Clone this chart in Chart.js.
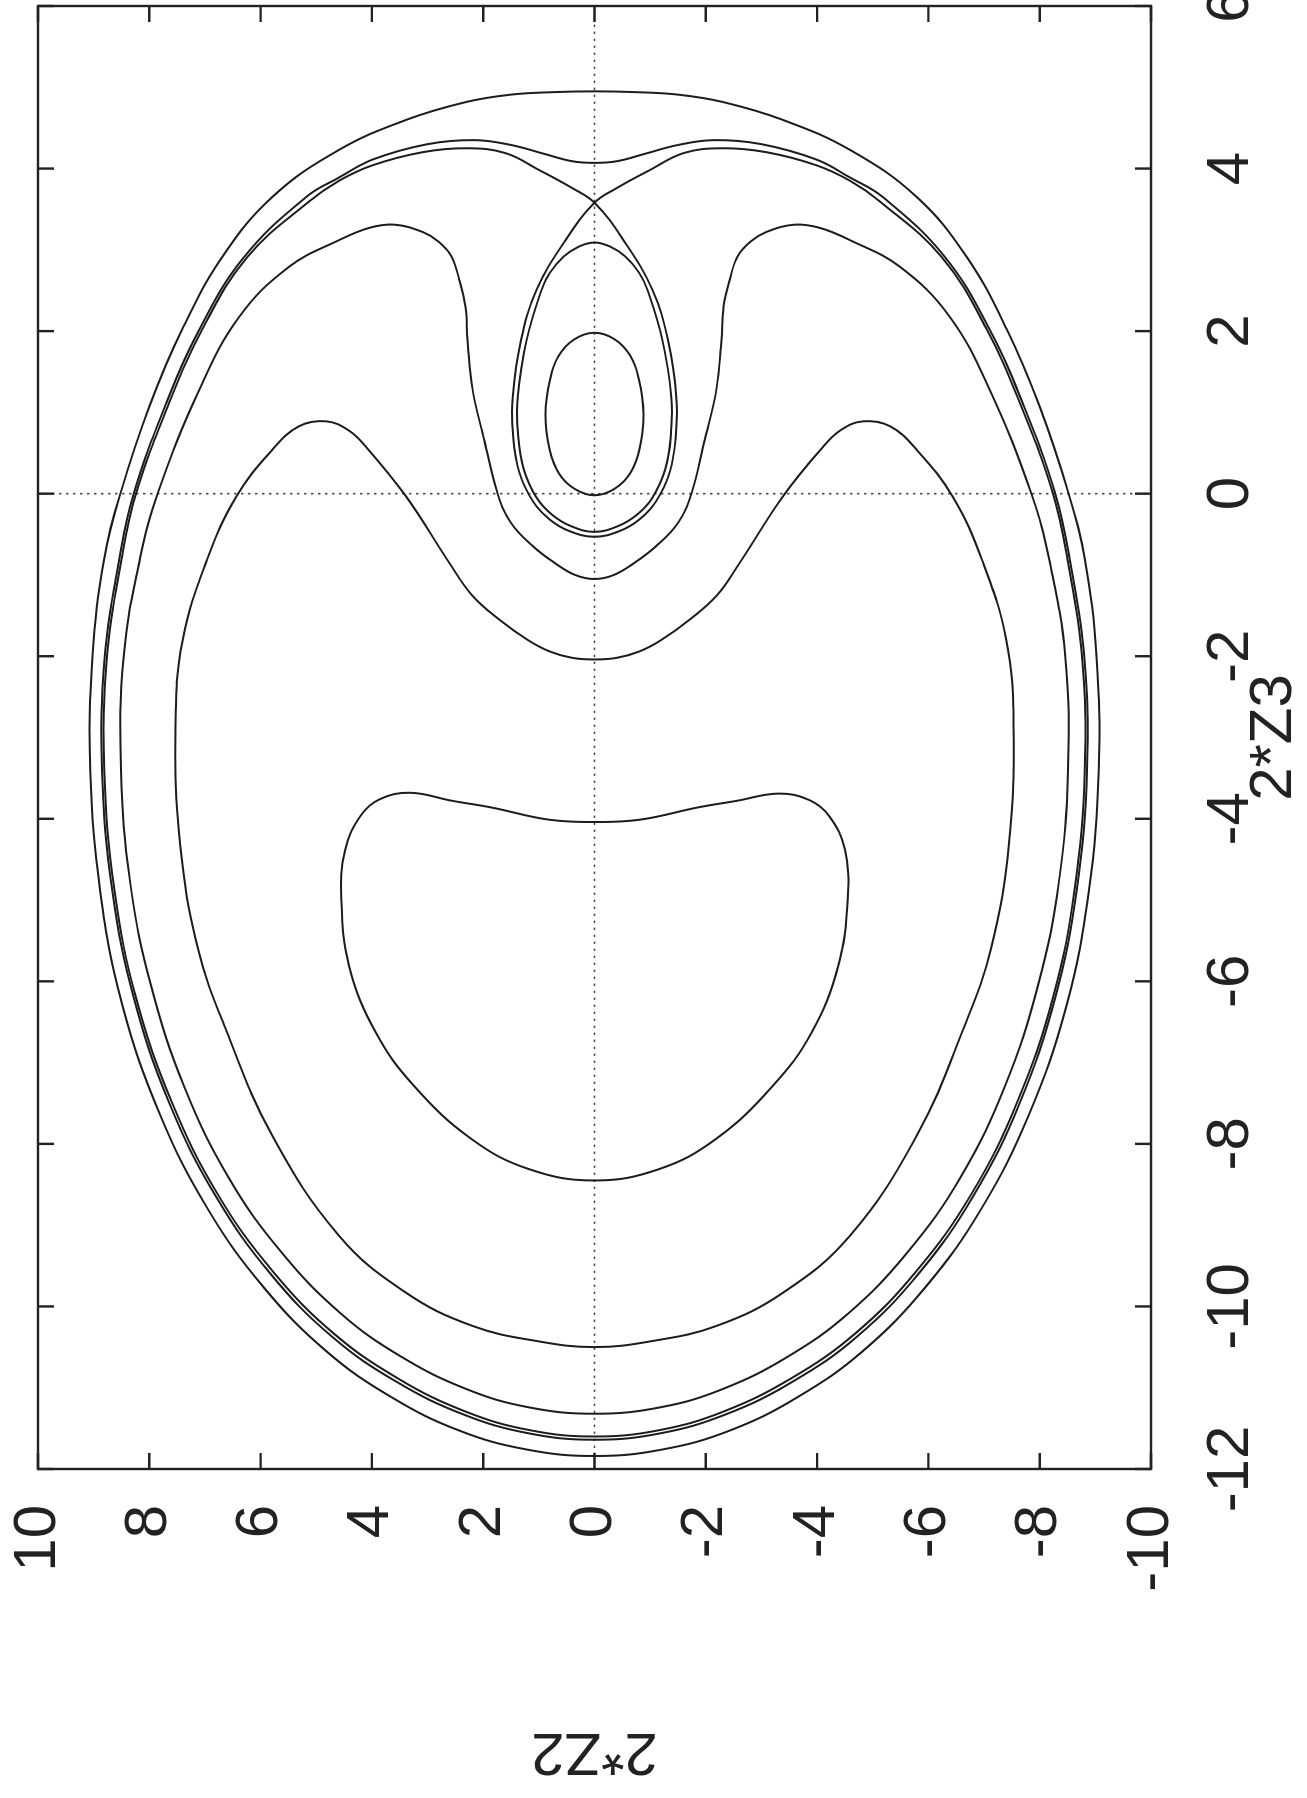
<!DOCTYPE html>
<html>
<head>
<meta charset="utf-8">
<script src="https://cdn.jsdelivr.net/npm/chart.js@4"></script>
<style>
html,body{margin:0;padding:0;background:#fff;overflow:hidden;width:1307px;height:1798px;}
#wrap{position:absolute;left:0;top:0;width:1798px;height:1307px;transform-origin:0 0;transform:translate(0px,1798px) rotate(-90deg);}
canvas{display:block;}
</style>
</head>
<body>
<div id="wrap"><canvas id="c" width="1798" height="1307"></canvas></div>
<script>
// Axis settings
const Z3_RANGE = [-12, 6];      // horizontal axis 2*Z3
const Z2_RANGE = [-10, 10];     // vertical axis 2*Z2
const TICK_STEP = 2;
const X_TITLE = '2*Z3';
const Y_TITLE = '2*Z2';

// Orbits: each point is [2*Z3, 2*Z2]
const outerOrbit = [[-11.84,0],[-11.76,1.22],[-11.53,2.42],[-11.12,3.64],[-10.55,4.82],[-9.76,5.95],[-8.8,6.95],[-7.65,7.8],[-6.3,8.48],[-4.9,8.88],[-3.4,9.06],[-2.0,9.02],[-0.8,8.81],[0.0,8.52],[1.07,8.0],[2.02,7.41],[2.91,6.69],[3.65,5.79],[4.23,4.59],[4.6,3.38],[4.82,2.3],[4.91,1.5],[4.94,0.75],[4.95,0],[4.94,-0.75],[4.91,-1.5],[4.82,-2.3],[4.6,-3.38],[4.23,-4.59],[3.65,-5.79],[2.91,-6.69],[2.02,-7.41],[1.07,-8.0],[0.0,-8.52],[-0.8,-8.81],[-2.0,-9.02],[-3.4,-9.06],[-4.9,-8.88],[-6.3,-8.48],[-7.65,-7.8],[-8.8,-6.95],[-9.76,-5.95],[-10.55,-4.82],[-11.12,-3.64],[-11.53,-2.42],[-11.76,-1.22]];

const notchedOrbit = [[-11.64,0],[-11.56,1.19],[-11.33,2.35],[-10.93,3.55],[-10.37,4.72],[-9.6,5.82],[-8.65,6.8],[-7.5,7.64],[-6.2,8.28],[-4.9,8.66],[-3.4,8.85],[-2.0,8.8],[-0.81,8.54],[0.0,8.28],[1.07,7.72],[2.02,7.1],[2.91,6.3],[3.65,5.18],[3.89,4.59],[4.11,3.99],[4.3,3.0],[4.35,2.15],[4.29,1.5],[4.18,0.9],[4.09,0.4],[4.07,0],[4.09,-0.4],[4.18,-0.9],[4.29,-1.5],[4.35,-2.15],[4.3,-3.0],[4.11,-3.99],[3.89,-4.59],[3.65,-5.18],[2.91,-6.3],[2.02,-7.1],[1.07,-7.72],[0.0,-8.28],[-0.81,-8.54],[-2.0,-8.8],[-3.4,-8.85],[-4.9,-8.66],[-6.2,-8.28],[-7.5,-7.64],[-8.65,-6.8],[-9.6,-5.82],[-10.37,-4.72],[-10.93,-3.55],[-11.33,-2.35],[-11.56,-1.19]];

const separatrix = [[-11.6,0],[-11.52,1.18],[-11.29,2.33],[-10.89,3.52],[-10.33,4.69],[-9.56,5.79],[-8.62,6.77],[-7.48,7.6],[-6.2,8.24],[-4.9,8.62],[-3.4,8.81],[-2.0,8.76],[-0.81,8.5],[0.0,8.24],[1.07,7.67],[2.02,7.05],[2.91,6.24],[3.6,5.12],[3.85,4.59],[4.04,3.99],[4.2,3.1],[4.25,2.3],[4.19,1.6],[3.98,0.99],[3.76,0.4],[3.58,0],
  [3.12,-0.52],[2.51,-1.04],[1.89,-1.32],[1.19,-1.47],[0.7,-1.46],[0.26,-1.35],[-0.1,-1.1],[-0.32,-0.8],[-0.46,-0.45],[-0.53,0],
  [-0.46,0.45],[-0.32,0.8],[-0.1,1.1],[0.26,1.35],[0.7,1.46],[1.19,1.47],[1.89,1.32],[2.51,1.04],[3.12,0.52],[3.58,0],
  [3.76,-0.4],[3.98,-0.99],[4.19,-1.6],[4.25,-2.3],[4.2,-3.1],[4.04,-3.99],[3.85,-4.59],[3.6,-5.12],[2.91,-6.24],[2.02,-7.05],[1.07,-7.67],[0.0,-8.24],[-0.81,-8.5],[-2.0,-8.76],[-3.4,-8.81],[-4.9,-8.62],[-6.2,-8.24],[-7.48,-7.6],[-8.62,-6.77],[-9.56,-5.79],[-10.33,-4.69],[-10.89,-3.52],[-11.29,-2.33],[-11.52,-1.18]];

const eyeOrbit = [[3.09,0],[3.04,-0.28],[2.92,-0.55],[2.72,-0.8],[2.51,-0.95],[1.89,-1.22],[1.19,-1.38],[0.7,-1.37],[0.3,-1.27],[-0.05,-1.04],[-0.26,-0.76],[-0.4,-0.42],[-0.47,0],[-0.4,0.42],[-0.26,0.76],[-0.05,1.04],[0.3,1.27],[0.7,1.37],[1.19,1.38],[1.89,1.22],[2.51,0.95],[2.72,0.8],[2.92,0.55],[3.04,0.28]];

const innerEye = [[1.98,0],[1.9,-0.36],[1.7,-0.64],[1.4,-0.8],[0.98,-0.88],[0.55,-0.81],[0.25,-0.64],[0.06,-0.36],[-0.02,0],[0.06,0.36],[0.25,0.64],[0.55,0.81],[0.98,0.88],[1.4,0.8],[1.7,0.64],[1.9,0.36]];

const bentOrbitF = [[-11.32,0],[-11.24,1.19],[-11.02,2.29],[-10.62,3.47],[-10.08,4.57],[-9.33,5.63],[-8.42,6.57],[-7.3,7.37],[-6.05,7.97],[-4.8,8.34],[-3.4,8.51],[-2.0,8.46],[-0.81,8.17],[0.0,7.85],[1.28,7.1],[2.18,6.38],[2.79,5.49],[3.12,4.59],[3.27,4.05],[3.31,3.6],[3.22,3.09],[3.1,2.8],[2.92,2.57],[2.63,2.43],[2.3,2.32],[1.89,2.28],[1.28,2.19],[0.66,1.98],[0.0,1.74],[-0.36,1.5],[-0.65,1.1],[-0.85,0.72],[-1.0,0.35],[-1.05,0],[-1.0,-0.35],[-0.85,-0.72],[-0.65,-1.1],[-0.36,-1.5],[0.0,-1.74],[0.66,-1.98],[1.28,-2.19],[1.89,-2.28],[2.3,-2.32],[2.63,-2.43],[2.92,-2.57],[3.1,-2.8],[3.22,-3.09],[3.31,-3.6],[3.27,-4.05],[3.12,-4.59],[2.79,-5.49],[2.18,-6.38],[1.28,-7.1],[0.0,-7.85],[-0.81,-8.17],[-2.0,-8.46],[-3.4,-8.51],[-4.8,-8.34],[-6.05,-7.97],[-7.3,-7.37],[-8.42,-6.57],[-9.33,-5.63],[-10.08,-4.57],[-10.62,-3.47],[-11.02,-2.29],[-11.24,-1.19]];

const bentOrbitG = [[-10.5,0],[-10.43,1.0],[-10.24,2.19],[-9.83,3.39],[-9.13,4.59],[-7.9,5.79],[-6.6,6.62],[-5.61,7.12],[-4.3,7.45],[-2.85,7.53],[-1.8,7.4],[-0.81,6.96],[-0.04,6.44],[0.54,5.79],[0.83,5.31],[0.89,4.82],[0.78,4.42],[0.58,4.11],[-0.03,3.39],[-0.85,2.61],[-1.25,2.2],[-1.55,1.71],[-1.8,1.2],[-1.94,0.81],[-2.02,0.4],[-2.04,0],[-2.02,-0.4],[-1.94,-0.81],[-1.8,-1.2],[-1.55,-1.71],[-1.25,-2.2],[-0.85,-2.61],[-0.03,-3.39],[0.58,-4.11],[0.78,-4.42],[0.89,-4.82],[0.83,-5.31],[0.54,-5.79],[-0.04,-6.44],[-0.81,-6.96],[-1.8,-7.4],[-2.85,-7.53],[-4.3,-7.45],[-5.61,-7.12],[-6.6,-6.62],[-7.9,-5.79],[-9.13,-4.59],[-9.83,-3.39],[-10.24,-2.19],[-10.43,-1.0]];

const kidneyOrbit = [[-8.45,0],[-8.31,1.18],[-7.94,2.21],[-7.29,3.24],[-6.63,3.93],[-5.81,4.41],[-4.99,4.55],[-4.38,4.48],[-3.96,4.2],[-3.76,3.86],[-3.68,3.31],[-3.78,2.55],[-3.86,1.86],[-4.01,0.83],[-4.04,0],[-4.01,-0.83],[-3.86,-1.86],[-3.78,-2.55],[-3.69,-3.31],[-3.77,-3.86],[-3.97,-4.22],[-4.38,-4.5],[-4.99,-4.55],[-5.81,-4.38],[-6.63,-3.9],[-7.29,-3.2],[-7.94,-2.18],[-8.31,-1.16]];

const orbits = [outerOrbit, notchedOrbit, separatrix, eyeOrbit, innerEye, bentOrbitF, bentOrbitG, kidneyOrbit];

const FONT = '"Liberation Sans", Arial, Helvetica, sans-serif';
const INK = '#1c1c1c';

// close each orbit into a loop and let the library compute the spline control points
const loopPlugin = {
  id: 'closedLoops',
  beforeDatasetDraw(chart, args) {
    const line = args.meta.dataset;
    if (line) {
      line._loop = true; line._fullLoop = true;
      line._pointsUpdated = false; line._segments = undefined; line._path = undefined;
      line.updateControlPoints(chart.chartArea, 'x');
    }
  }
};

// gnuplot-like frame, inward mirrored ticks and dotted zero axes
const framePlugin = {
  id: 'gnuplotFrame',
  beforeDatasetsDraw(chart) {
    const {ctx, chartArea: a, scales: {x, y}} = chart;
    const x0 = x.getPixelForValue(0), y0 = y.getPixelForValue(0);
    ctx.save();
    ctx.strokeStyle = '#4a4a4a';
    ctx.lineWidth = 1.6;
    ctx.setLineDash([2.4, 4.6]);
    ctx.beginPath();
    ctx.moveTo(x0, a.top); ctx.lineTo(x0, a.bottom);
    ctx.moveTo(a.left, y0); ctx.lineTo(a.right, y0);
    ctx.stroke();
    ctx.restore();
  },
  afterDatasetsDraw(chart) {
    const {ctx, chartArea: a, scales: {x, y}} = chart;
    const len = 16;
    ctx.save();
    ctx.strokeStyle = '#222';
    ctx.lineWidth = 2.4;
    ctx.setLineDash([]);
    ctx.beginPath();
    x.ticks.forEach(t => {
      const p = x.getPixelForValue(t.value);
      ctx.moveTo(p, a.bottom); ctx.lineTo(p, a.bottom - len);
      ctx.moveTo(p, a.top); ctx.lineTo(p, a.top + len);
    });
    y.ticks.forEach(t => {
      const p = y.getPixelForValue(t.value);
      ctx.moveTo(a.left, p); ctx.lineTo(a.left + len, p);
      ctx.moveTo(a.right, p); ctx.lineTo(a.right - len, p);
    });
    ctx.stroke();
    ctx.strokeRect(a.left, a.top, a.right - a.left, a.bottom - a.top);
    ctx.restore();
  }
};

new Chart(document.getElementById('c'), {
  type: 'line',
  data: {
    datasets: orbits.map(o => ({
      data: o,
      showLine: true,
      tension: 0.4,
      borderColor: INK,
      borderWidth: 2,
      pointRadius: 0,
      pointHoverRadius: 0,
      fill: false,
      spanGaps: false
    }))
  },
  options: {
    responsive: false,
    animation: false,
    devicePixelRatio: 1,
    events: [],
    layout: { padding: { top: 38, right: 6, bottom: 0, left: 0 } },
    plugins: { legend: { display: false }, tooltip: { enabled: false } },
    scales: {
      x: {
        type: 'linear', position: 'bottom',
        min: Z3_RANGE[0], max: Z3_RANGE[1],
        ticks: { stepSize: TICK_STEP, font: { family: FONT, size: 60 }, color: '#222', padding: 44, maxRotation: 0, autoSkip: false },
        grid: { display: false, drawTicks: false },
        border: { display: false },
        title: { display: true, text: X_TITLE, font: { family: FONT, size: 60, lineHeight: 1 }, color: '#222', padding: { top: 0, bottom: 3 } },
        afterFit(s) { s.height = 156; s.paddingLeft = 0; s.paddingRight = 0; }
      },
      y: {
        type: 'linear', position: 'left',
        min: Z2_RANGE[0], max: Z2_RANGE[1],
        ticks: { stepSize: TICK_STEP, font: { family: FONT, size: 60 }, color: '#222', padding: 36, autoSkip: false },
        grid: { display: false, drawTicks: false },
        border: { display: false },
        title: { display: true, text: Y_TITLE, font: { family: FONT, size: 60, lineHeight: 1 }, color: '#222', padding: { top: 17, bottom: 0 } },
        afterFit(s) { s.width = 329; s.paddingTop = 0; s.paddingBottom = 0; }
      }
    }
  },
  plugins: [loopPlugin, framePlugin]
});
</script>
</body>
</html>
